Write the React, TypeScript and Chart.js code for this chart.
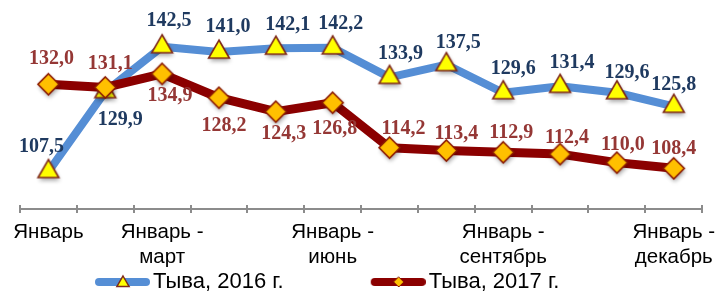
import React, { useEffect, useRef } from 'react';
import { Chart, registerables } from 'chart.js';

Chart.register(...registerables);

// ---- data ----
const tickLabels: (string | string[])[] = [
  'Январь',
  '',
  ['Январь -', 'март'],
  '',
  '',
  ['Январь -', 'июнь'],
  '',
  '',
  ['Январь -', 'сентябрь'],
  '',
  '',
  ['Январь -', 'декабрь'],
];

const seriesNames = ['Тыва, 2016 г.', 'Тыва, 2017 г.'];

const values2016 = [107.5, 129.9, 142.5, 141.0, 142.1, 142.2, 133.9, 137.5, 129.6, 131.4, 129.6, 125.8];
const values2017 = [132.0, 131.1, 134.9, 128.2, 124.3, 126.8, 114.2, 113.4, 112.9, 112.4, 110.0, 108.4];

// ---- label placement (style, px offsets from the point) ----
const labelDx2016 = [-7, 15, 7, 9, 12, 8, 11, 12, 10, 12, 10, 0];
const labelDy2016 = [-25, 28, -26, -25, -23, -24, -24, -22, -24, -24, -20, -21];
const labelDx2017 = [3, 5, 8, 5, 8, 2, 14, 10, 8, 7, 6, 0];
const labelDy2017 = [-25, -24, 22, 28, 22, 26, -19, -17, -19, -16, -18, -20];

const BLUE_LINE = '#558ED5';
const RED_LINE = '#8B0000';
const BLUE_TEXT = '#1F3A60';
const RED_TEXT = '#953735';
const TRI_FILL = '#FFFF00';
const TRI_BORDER = '#7F2A1A';
const DIA_FILL = '#FFC000';
const DIA_BORDER = '#8B1A00';
const FONT_SANS = '"Liberation Sans", Arial, sans-serif';

function shapePath(ctx: CanvasRenderingContext2D, kind: 'triangle' | 'diamond', cx: number, cy: number, r: number) {
  ctx.beginPath();
  if (kind === 'triangle') {
    ctx.moveTo(cx, cy - r);
    ctx.lineTo(cx + r * 0.866, cy + r * 0.5);
    ctx.lineTo(cx - r * 0.866, cy + r * 0.5);
  } else {
    ctx.moveTo(cx, cy - r);
    ctx.lineTo(cx + r, cy);
    ctx.lineTo(cx, cy + r);
    ctx.lineTo(cx - r, cy);
  }
  ctx.closePath();
}

function makeMarker(kind: 'triangle' | 'diamond', r: number, fill: string, border: string): HTMLCanvasElement {
  const S = Math.ceil(r * 2 + 14);
  const c = document.createElement('canvas');
  c.width = S;
  c.height = S;
  const ctx = c.getContext('2d')!;
  const cx = S / 2;
  const cy = S / 2;
  ctx.save();
  ctx.shadowColor = 'rgba(0,0,0,0.35)';
  ctx.shadowBlur = 4;
  ctx.shadowOffsetX = 1;
  ctx.shadowOffsetY = 3;
  shapePath(ctx, kind, cx, cy, r);
  ctx.fillStyle = fill;
  ctx.fill();
  ctx.restore();
  shapePath(ctx, kind, cx, cy, r);
  ctx.strokeStyle = border;
  ctx.lineWidth = 1.6;
  ctx.stroke();
  return c;
}

function makeLegendIcon(lineColor: string, kind: 'triangle' | 'diamond'): HTMLCanvasElement {
  const W = 150;
  const H = 22;
  const c = document.createElement('canvas');
  c.width = W;
  c.height = H;
  const ctx = c.getContext('2d')!;
  const cy = H / 2;
  ctx.strokeStyle = lineColor;
  ctx.lineWidth = 8;
  ctx.lineCap = 'round';
  ctx.beginPath();
  ctx.moveTo(99, cy);
  ctx.lineTo(146, cy);
  ctx.stroke();
  if (kind === 'triangle') {
    shapePath(ctx, 'triangle', 123, cy + 1, 7);
    ctx.fillStyle = TRI_FILL;
    ctx.fill();
    ctx.strokeStyle = TRI_BORDER;
    ctx.lineWidth = 1.5;
    ctx.stroke();
  } else {
    shapePath(ctx, 'diamond', 123, cy, 5);
    ctx.fillStyle = DIA_FILL;
    ctx.fill();
    ctx.strokeStyle = DIA_BORDER;
    ctx.lineWidth = 1;
    ctx.stroke();
  }
  return c;
}

const valueLabelPlugin = {
  id: 'valueLabels',
  afterDatasetsDraw(chart: any) {
    const ctx = chart.ctx;
    const cfgs = [
      { color: BLUE_TEXT, dx: labelDx2016, dy: labelDy2016 },
      { color: RED_TEXT, dx: labelDx2017, dy: labelDy2017 },
    ];
    chart.data.datasets.forEach((ds: any, di: number) => {
      const meta = chart.getDatasetMeta(di);
      const cfg = cfgs[di];
      meta.data.forEach((pt: any, i: number) => {
        const v = ds.data[i] as number;
        ctx.save();
        ctx.font = 'bold 20px "Liberation Serif", "Times New Roman", serif';
        ctx.fillStyle = cfg.color;
        ctx.textAlign = 'center';
        ctx.textBaseline = 'middle';
        ctx.fillText(v.toFixed(1).replace('.', ','), pt.x + cfg.dx[i], pt.y + cfg.dy[i]);
        ctx.restore();
      });
    });
  },
};

// short tick stubs above the category axis (the axis ticks cross the line)
const innerTickPlugin = {
  id: 'innerTicks',
  afterDraw(chart: any) {
    const sx = chart.scales.x;
    const n = chart.data.labels.length;
    const ctx = chart.ctx;
    ctx.save();
    ctx.strokeStyle = '#8C8C8C';
    ctx.lineWidth = 2;
    for (let i = 0; i <= n; i++) {
      const px = Math.round(sx.left + (sx.width / n) * i);
      ctx.beginPath();
      ctx.moveTo(px, sx.top - 4);
      ctx.lineTo(px, sx.top);
      ctx.stroke();
    }
    ctx.restore();
  },
};

export default function App() {
  const ref = useRef<HTMLCanvasElement | null>(null);

  useEffect(() => {
    if (!ref.current) return;
    const icons = [makeLegendIcon(BLUE_LINE, 'triangle'), makeLegendIcon(RED_LINE, 'diamond')];
    const triMarker = makeMarker('triangle', 12, TRI_FILL, TRI_BORDER);
    const diaMarker = makeMarker('diamond', 10.5, DIA_FILL, DIA_BORDER);

    const chart = new Chart(ref.current, {
      type: 'line',
      data: {
        labels: tickLabels as any,
        datasets: [
          {
            label: seriesNames[0],
            data: values2016,
            borderColor: BLUE_LINE,
            borderWidth: 8,
            borderJoinStyle: 'round',
            pointStyle: triMarker,
            pointRadius: 12,
            pointHoverRadius: 12,
            tension: 0,
            clip: false,
            order: 2,
          },
          {
            label: seriesNames[1],
            data: values2017,
            borderColor: RED_LINE,
            borderWidth: 9,
            borderJoinStyle: 'round',
            pointStyle: diaMarker,
            pointRadius: 10.5,
            pointHoverRadius: 10.5,
            tension: 0,
            clip: false,
            order: 1,
          },
        ],
      },
      options: {
        responsive: false,
        animation: false,
        events: [],
        layout: { padding: { top: 19, left: 8, right: 15, bottom: -10 } },
        scales: {
          x: {
            offset: true,
            grid: {
              display: true,
              drawOnChartArea: false,
              drawTicks: true,
              tickLength: 4,
              color: '#8C8C8C',
              lineWidth: 2,
              offset: true,
            },
            border: { display: true, color: '#8C8C8C', width: 2 },
            ticks: {
              autoSkip: false,
              maxRotation: 0,
              minRotation: 0,
              color: '#000000',
              padding: 7,
              font: { family: FONT_SANS, size: 20.5 },
            },
            afterFit: (s: any) => {
              s.height = 62;
            },
          },
          y: {
            min: 97,
            max: 150,
            grid: { display: false },
            border: { display: false },
            ticks: { display: false },
            afterFit: (s: any) => {
              s.width = 10;
            },
          },
        },
        plugins: {
          tooltip: { enabled: false },
          legend: {
            position: 'bottom',
            align: 'start',
            labels: {
              usePointStyle: true,
              pointStyleWidth: 134,
              padding: 0,
              color: '#000000',
              font: { family: FONT_SANS, size: 22 },
              generateLabels: (ch: any) =>
                ch.data.datasets.map((ds: any, i: number) => ({
                  text: ds.label,
                  fillStyle: 'rgba(0,0,0,0)',
                  strokeStyle: 'rgba(0,0,0,0)',
                  lineWidth: 0,
                  pointStyle: icons[i],
                  hidden: false,
                  datasetIndex: i,
                  fontColor: '#000000',
                })),
            },
          },
        },
      },
      plugins: [valueLabelPlugin, innerTickPlugin],
    } as any);

    return () => chart.destroy();
  }, []);

  return (
    <div style={{ position: 'fixed', left: 0, top: 0, width: 723, height: 293, background: '#fff' }}>
      <canvas ref={ref} width={723} height={293} style={{ display: 'block' }} />
    </div>
  );
}
